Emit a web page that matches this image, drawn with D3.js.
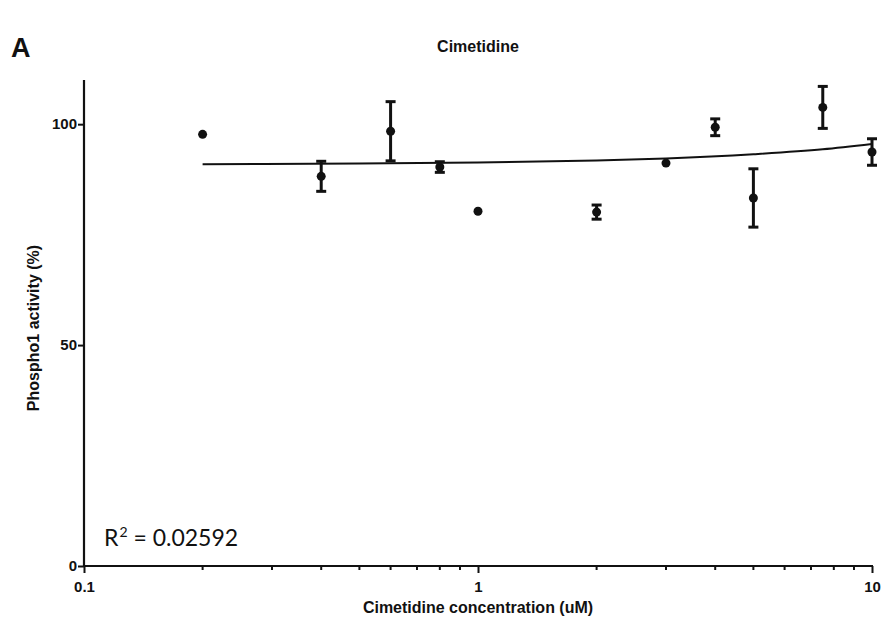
<!DOCTYPE html>
<html>
<head>
<meta charset="utf-8">
<script src="https://cdn.jsdelivr.net/npm/d3@7/dist/d3.min.js"></script>
<style>
  html, body { margin: 0; padding: 0; background: #fff; }
  svg { display: block; }
  text { fill: #111; }
</style>
</head>
<body>
<svg id="chart" width="885" height="625"></svg>
<script>
// Cimetidine concentration (uM) and Phospho1 activity (%), mean ± SD
const concentrations = [0.2, 0.4, 0.6, 0.8, 1, 2, 3, 4, 5, 7.5, 10];
const activityMean   = [97.7, 88.2, 98.4, 90.3, 80.3, 80.1, 91.2, 99.3, 83.3, 103.8, 93.7];
const activitySD     = [0, 3.4, 6.7, 1.2, 0, 1.6, 0, 1.9, 6.6, 4.75, 3.0];

// Regression curve sampled along the concentration range
const fitX = [0.2, 0.5, 1, 2, 3, 5, 7.5, 10];
const fitY = [90.95, 91.1, 91.3, 91.8, 92.25, 93.2, 94.3, 95.5];

const xTickValues = [0.1, 1, 10];
const xTickLabels = ["0.1", "1", "10"];
const yTickValues = [0, 50, 100];

const svg = d3.select("#chart");
const plotLeft = 84, plotRight = 872, plotTop = 80, plotBottom = 566;

const x = d3.scaleLog().domain([0.1, 10]).range([plotLeft, plotRight]);
const y = d3.scaleLinear().domain([0, 110]).range([plotBottom, plotTop]);

const boldFont = "'Liberation Sans', Arial, sans-serif";

// Panel letter and title
svg.append("text").attr("x", 11).attr("y", 57)
  .attr("font-family", boldFont).attr("font-weight", "bold").attr("font-size", 27)
  .text("A");
svg.append("text").attr("x", 478).attr("y", 52).attr("text-anchor", "middle")
  .attr("font-family", boldFont).attr("font-weight", "bold").attr("font-size", 16)
  .text("Cimetidine");

// Minor ticks on the log axis (2..9 in each decade)
const minorTicks = [];
[0.1, 1].forEach(d => { for (let k = 2; k <= 9; k++) minorTicks.push(+(d * k).toFixed(3)); });

const xAxis = d3.axisBottom(x)
  .tickValues(xTickValues)
  .tickFormat((d, i) => xTickLabels[i])
  .tickSize(7).tickPadding(8);

const gx = svg.append("g").attr("transform", `translate(0,${plotBottom})`).call(xAxis);
gx.select(".domain").attr("stroke", "#111").attr("stroke-width", 2.2).attr("d", `M${plotLeft - 1},0H${plotRight + 1}`);
gx.selectAll(".tick line").attr("stroke", "#111").attr("stroke-width", 2);
gx.selectAll(".tick text").attr("font-family", boldFont).attr("font-weight", "bold")
  .attr("font-size", 15).attr("fill", "#111");

gx.selectAll(".minor").data(minorTicks).enter().append("line")
  .attr("class", "minor")
  .attr("x1", d => x(d)).attr("x2", d => x(d))
  .attr("y1", 0).attr("y2", 4)
  .attr("stroke", "#111").attr("stroke-width", 2);

const yAxis = d3.axisLeft(y).tickValues(yTickValues).tickSize(6).tickPadding(1);
const gy = svg.append("g").attr("transform", `translate(${plotLeft},0)`).call(yAxis);
gy.select(".domain").attr("stroke", "#111").attr("stroke-width", 2.2).attr("d", `M0,${plotBottom + 1}V${plotTop}`);
gy.selectAll(".tick line").attr("stroke", "#111").attr("stroke-width", 2);
gy.selectAll(".tick text").attr("font-family", boldFont).attr("font-weight", "bold")
  .attr("font-size", 15).attr("fill", "#111");

// Axis titles
svg.append("text").attr("x", 478).attr("y", 613).attr("text-anchor", "middle")
  .attr("font-family", boldFont).attr("font-weight", "bold").attr("font-size", 16)
  .text("Cimetidine concentration (uM)");
svg.append("text")
  .attr("transform", "translate(39,328) rotate(-90)")
  .attr("text-anchor", "middle")
  .attr("font-family", boldFont).attr("font-weight", "bold").attr("font-size", 16)
  .text("Phospho1 activity (%)");

// Regression curve
const line = d3.line().x(d => x(d[0])).y(d => y(d[1])).curve(d3.curveMonotoneX);
svg.append("path")
  .datum(fitX.map((v, i) => [v, fitY[i]]))
  .attr("d", line)
  .attr("fill", "none").attr("stroke", "#111").attr("stroke-width", 2);

// Error bars
const data = concentrations.map((c, i) => ({ c, m: activityMean[i], sd: activitySD[i] }));
const bars = svg.append("g").selectAll("g").data(data.filter(d => d.sd > 0)).enter().append("g")
  .attr("stroke", "#111").attr("stroke-width", 3);
bars.append("line")
  .attr("x1", d => x(d.c)).attr("x2", d => x(d.c))
  .attr("y1", d => y(d.m + d.sd)).attr("y2", d => y(d.m - d.sd));
bars.append("line")
  .attr("x1", d => x(d.c) - 5).attr("x2", d => x(d.c) + 5)
  .attr("y1", d => y(d.m + d.sd)).attr("y2", d => y(d.m + d.sd));
bars.append("line")
  .attr("x1", d => x(d.c) - 5).attr("x2", d => x(d.c) + 5)
  .attr("y1", d => y(d.m - d.sd)).attr("y2", d => y(d.m - d.sd));

// Mean points
svg.append("g").selectAll("circle").data(data).enter().append("circle")
  .attr("cx", d => x(d.c)).attr("cy", d => y(d.m)).attr("r", 4.5)
  .attr("fill", "#111");

// Goodness of fit
const r2 = svg.append("text").attr("x", 104).attr("y", 546)
  .attr("font-family", "Lato, 'Open Sans', sans-serif").attr("font-size", 23);
r2.append("tspan").text("R");
r2.append("tspan").attr("dy", -9).attr("dx", 1).attr("font-size", 14).text("2");
r2.append("tspan").attr("dy", 9).text(" = 0.02592");
</script>
</body>
</html>
